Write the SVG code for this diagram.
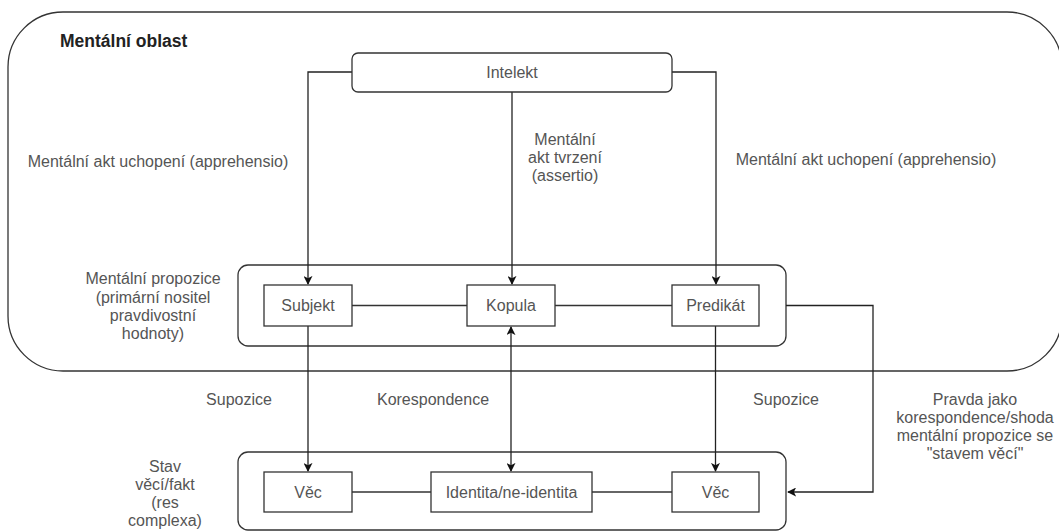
<svg xmlns="http://www.w3.org/2000/svg" width="1059" height="531" viewBox="0 0 1059 531">
<style>
.t{font-family:"Liberation Sans",Arial,sans-serif;font-size:16px;fill:#555;text-anchor:middle}
.b{font-weight:bold;fill:#222;text-anchor:start;font-size:17.5px}
.box{fill:#fff;stroke:#333;stroke-width:1.3}
.c{fill:none;stroke:#333;stroke-width:1.3}
.ca{fill:none;stroke:#222;stroke-width:1.3}
</style>
<defs>
<marker id="ah" viewBox="0 0 10 10" refX="9" refY="5" markerWidth="9" markerHeight="9" markerUnits="userSpaceOnUse" orient="auto-start-reverse">
<path d="M0,0 L10,5 L0,10 L2.5,5 Z" fill="#111"/>
</marker>
</defs>
<g id="mentalni-oblast">
<rect x="8" y="12" width="1054" height="359" rx="55" ry="55" fill="#fff" stroke="#333" stroke-width="1.3"/>
<text class="t b" x="60" y="47">Mentální oblast</text>
</g>
<g id="propozice">
<rect class="box" x="238" y="265" width="548" height="81" rx="10" ry="10"/>
</g>
<g id="stav-veci">
<rect class="box" x="238" y="452" width="548" height="78" rx="10" ry="10"/>
</g>
<g id="connectors">
<path class="ca" d="M352,72 H308 V284" marker-end="url(#ah)"/>
<path class="ca" d="M512,92 V284" marker-end="url(#ah)"/>
<path class="ca" d="M672,72 H716 V284" marker-end="url(#ah)"/>
<path class="c" d="M352,305.5 H467"/>
<path class="c" d="M555,305.5 H672"/>
<path class="ca" d="M308,326 V471" marker-end="url(#ah)"/>
<path class="ca" d="M511,327 V471" marker-start="url(#ah)" marker-end="url(#ah)"/>
<path class="ca" d="M715.5,326 V471" marker-end="url(#ah)"/>
<path class="c" d="M352,492 H431"/>
<path class="c" d="M592,492 H672"/>
<path class="ca" d="M786,305.5 H873 V492 H788" marker-end="url(#ah)"/>
</g>
<g id="intelekt">
<rect class="box" x="352" y="53" width="320" height="39" rx="6" ry="6"/>
<text class="t" x="512" y="78">Intelekt</text>
</g>
<g id="subjekt">
<rect class="box" x="264" y="285" width="88" height="41"/>
<text class="t" x="308" y="311">Subjekt</text>
</g>
<g id="kopula">
<rect class="box" x="467" y="285" width="88" height="41"/>
<text class="t" x="511" y="311">Kopula</text>
</g>
<g id="predikat">
<rect class="box" x="672" y="285" width="87" height="41"/>
<text class="t" x="715.5" y="311">Predikát</text>
</g>
<g id="vec1">
<rect class="box" x="264" y="472" width="88" height="40"/>
<text class="t" x="308" y="497.5">Věc</text>
</g>
<g id="identita">
<rect class="box" x="431" y="472" width="161" height="40"/>
<text class="t" x="511.5" y="497.5">Identita/ne-identita</text>
</g>
<g id="vec2">
<rect class="box" x="672" y="472" width="87" height="40"/>
<text class="t" x="715.5" y="497.5">Věc</text>
</g>
<g id="labels">
<text class="t" x="158" y="167">Mentální akt uchopení (apprehensio)</text>
<text class="t" x="866" y="165">Mentální akt uchopení (apprehensio)</text>
<text class="t" x="565"><tspan x="565" y="145">Mentální</tspan><tspan x="565" y="163">akt tvrzení</tspan><tspan x="565" y="181">(assertio)</tspan></text>
<text class="t" x="153"><tspan x="153" y="284">Mentální propozice</tspan><tspan x="153" y="303">(primární nositel</tspan><tspan x="153" y="321">pravdivostní</tspan><tspan x="153" y="339">hodnoty)</tspan></text>
<text class="t" x="239" y="405">Supozice</text>
<text class="t" x="433" y="405">Korespondence</text>
<text class="t" x="786" y="405">Supozice</text>
<text class="t" x="975"><tspan x="975" y="405">Pravda jako</tspan><tspan x="975" y="423">korespondence/shoda</tspan><tspan x="975" y="441">mentální propozice se</tspan><tspan x="975" y="459">"stavem věcí"</tspan></text>
<text class="t" x="165"><tspan x="165" y="472">Stav</tspan><tspan x="165" y="490">věcí/fakt</tspan><tspan x="165" y="508">(res</tspan><tspan x="165" y="526">complexa)</tspan></text>
</g>
</svg>
